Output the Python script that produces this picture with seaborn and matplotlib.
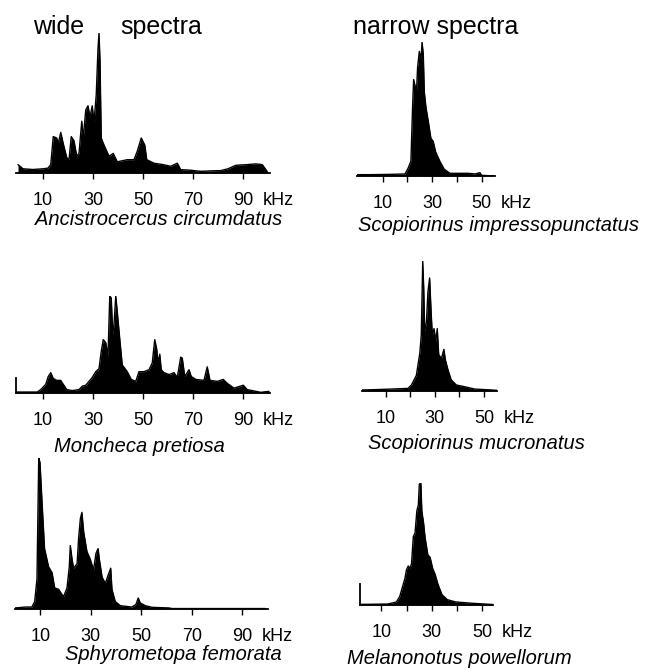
import matplotlib
matplotlib.use("Agg")
import matplotlib.pyplot as plt
import seaborn as sns

# ----------------------------------------------------------------------
# DATA: relative spectral amplitude (tallest peak = 1) against kHz
# ----------------------------------------------------------------------

anc_khz = [0, 2, 6, 10, 12, 13.1, 14.1, 15.5, 16.1, 17.1, 18.1, 19.5, 20.4, 21.3, 22.4,
           23.5, 24.4, 25.5, 26.1, 27.1, 28.0, 28.8, 29.7, 30.4, 31.3, 32.0, 32.4, 32.8,
           33.3, 34.4, 36.4, 38.1, 39.7, 43.7, 46.4, 47.7, 49.3, 50.7, 51.5, 54.4, 58,
           61.1, 63.7, 65.1, 69, 73, 77, 81, 84, 87.1, 91.7, 95, 97.7, 99.7]
anc_amp = [0.06, 0.03, 0.025, 0.03, 0.035, 0.06, 0.26, 0.25, 0.21, 0.29, 0.21, 0.11, 0.095,
           0.26, 0.23, 0.12, 0.14, 0.37, 0.25, 0.45, 0.48, 0.40, 0.48, 0.36, 0.56, 0.89, 1.0,
           0.80, 0.25, 0.20, 0.12, 0.14, 0.08, 0.095, 0.095, 0.155, 0.25, 0.20, 0.095, 0.07,
           0.06, 0.048, 0.07, 0.024, 0.02, 0.012, 0.015, 0.017, 0.03, 0.055, 0.06, 0.065,
           0.06, 0.01]

imp_khz = [-0.4, 5, 12.3, 19, 20.3, 21.4, 22.1, 22.5, 23.0, 23.6, 24.1, 24.8, 25.5, 25.9,
           26.4, 26.8, 27.5, 28.4, 29.5, 30.4, 31.4, 33.1, 34.9, 37.2, 44.6, 47.3, 49.3,
           50.0, 55.4]
imp_amp = [0.01, 0.01, 0.012, 0.015, 0.06, 0.11, 0.53, 0.72, 0.68, 0.61, 0.81, 0.93, 0.87,
           1.0, 0.91, 0.63, 0.51, 0.41, 0.28, 0.26, 0.18, 0.11, 0.05, 0.02, 0.02, 0.015,
           0.025, 0.005, 0.0]

mon_khz = [-0.8, 4, 7.7, 9.1, 11.1, 12.1, 13.1, 14.1, 15.5, 17.1, 18.1, 19.5, 21.7, 24.4,
           25.7, 27.1, 28.4, 29.7, 31.1, 32.4, 33.3, 34.1, 35.1, 36.0, 36.7, 37.3, 37.9,
           38.4, 39.1, 39.7, 40.8, 41.7, 43.7, 45.3, 47.1, 48.4, 50.4, 52.4, 53.7, 54.7,
           55.5, 56.0, 56.7, 57.3, 58.4, 60.4, 62.4, 63.7, 65.1, 65.7, 66.7, 68.4, 69.3,
           71.1, 74.4, 75.7, 76.8, 79.7, 82.1, 83.7, 86.4, 90.1, 91.7, 97.1, 100.4]
mon_amp = [0.01, 0.01, 0.01, 0.035, 0.09, 0.17, 0.21, 0.15, 0.13, 0.13, 0.09, 0.035, 0.025,
           0.035, 0.07, 0.08, 0.12, 0.16, 0.22, 0.25, 0.43, 0.55, 0.52, 0.38, 1.0, 0.98,
           0.60, 0.71, 1.0, 0.84, 0.53, 0.29, 0.22, 0.14, 0.12, 0.22, 0.22, 0.24, 0.31,
           0.55, 0.45, 0.31, 0.40, 0.24, 0.21, 0.19, 0.21, 0.16, 0.37, 0.36, 0.17, 0.24,
           0.17, 0.14, 0.13, 0.27, 0.13, 0.12, 0.14, 0.10, 0.05, 0.08, 0.035, 0.007, 0.017]

muc_khz = [0.4, 5, 12.3, 19.1, 20.5, 22.5, 23.9, 24.5, 25.1, 25.5, 25.9, 26.6, 27.2, 27.9,
           28.5, 29.0, 29.7, 30.4, 31.0, 31.6, 32.7, 33.7, 34.3, 35.4, 36.7, 38.8, 42.1,
           46.2, 53.0, 55.3]
muc_amp = [0.008, 0.01, 0.015, 0.02, 0.046, 0.12, 0.29, 0.43, 1.0, 0.79, 0.46, 0.53, 0.76,
           0.87, 0.61, 0.43, 0.48, 0.38, 0.48, 0.28, 0.25, 0.32, 0.24, 0.16, 0.085, 0.046,
           0.033, 0.015, 0.008, 0.005]

sph_khz = [0, 4.1, 6.7, 7.8, 8.7, 9.4, 9.9, 10.7, 11.7, 13.3, 14.7, 15.7, 17.3, 18.6, 19.3,
           20.6, 21.5, 21.9, 22.6, 23.2, 24.6, 25.2, 25.9, 26.5, 27.2, 28.5, 29.8, 31.1,
           32.1, 32.9, 33.4, 34.5, 35.8, 36.8, 37.9, 38.4, 39.7, 41.7, 46.3, 47.9, 48.8,
           49.6, 51.6, 54.3, 60.9, 62.2, 80, 99.1]
sph_amp = [0.007, 0.013, 0.013, 0.05, 0.20, 1.0, 0.97, 0.71, 0.40, 0.28, 0.24, 0.14, 0.13,
           0.096, 0.084, 0.14, 0.28, 0.42, 0.33, 0.27, 0.30, 0.47, 0.60, 0.64, 0.51, 0.38,
           0.33, 0.26, 0.37, 0.40, 0.33, 0.21, 0.17, 0.22, 0.27, 0.13, 0.05, 0.022, 0.013,
           0.03, 0.073, 0.04, 0.022, 0.011, 0.007, 0.003, 0.003, 0.003]

mel_khz = [0.8, 6, 12.6, 16.0, 17.3, 18.7, 19.4, 20.0, 20.7, 21.4, 22.0, 22.7, 23.4, 24.1,
           24.7, 25.1, 25.7, 26.1, 26.8, 27.4, 28.5, 29.4, 30.4, 31.4, 32.5, 34.1, 36.2,
           39.5, 46.2, 54.3]
mel_amp = [0.005, 0.006, 0.008, 0.025, 0.07, 0.17, 0.22, 0.29, 0.32, 0.30, 0.34, 0.56, 0.59,
           0.77, 0.82, 0.99, 1.0, 0.77, 0.67, 0.55, 0.41, 0.39, 0.30, 0.25, 0.17, 0.085,
           0.044, 0.025, 0.014, 0.004]

wide_ticks = [10, 30, 50, 70, 90]
narrow_ticks = [10, 20, 30, 40, 50]
narrow_labels = ["10", "", "30", "", "50"]

# calibration bar height (relative amplitude) drawn on two panels
mon_bar = 0.15
mel_bar = 0.17

# ----------------------------------------------------------------------
# PLOT
# ----------------------------------------------------------------------

sns.set_theme(style="white")
plt.rcParams["font.family"] = ["Liberation Sans", "DejaVu Sans"]
plt.rcParams["text.color"] = "black"
plt.rcParams["xtick.color"] = "black"
plt.rcParams["xtick.labelcolor"] = "black"

W, H = 658, 670
fig = plt.figure(figsize=(W / 100, H / 100), dpi=100)


def px_axes(left, right, top, bottom):
    return fig.add_axes([left / W, 1 - bottom / H, (right - left) / W, (bottom - top) / H])


panels = [
    # khz, amp, (left, right, top, bottom), xlim, wide?, bar
    (anc_khz, anc_amp, (16, 270, 33, 173), (-0.8, 100.8), True, None),
    (imp_khz, imp_amp, (357, 495, 42, 176), (-0.4, 55.4), False, None),
    (mon_khz, mon_amp, (16, 270, 296, 393), (-0.8, 100.8), True, mon_bar),
    (muc_khz, muc_amp, (362, 497, 261, 391), (0.4, 55.3), False, None),
    (sph_khz, sph_amp, (15, 268, 458, 609), (0.0, 100.2), True, None),
    (mel_khz, mel_amp, (360, 493, 483, 605), (1.5, 54.4), False, mel_bar),
]

for khz, amp, box, xlim, wide, bar in panels:
    ax = px_axes(*box)
    sns.lineplot(x=khz, y=amp, ax=ax, color="black", linewidth=1.0)
    ax.fill_between(khz, 0, amp, color="black", linewidth=0)
    ax.set_xlim(*xlim)
    ax.set_ylim(0, 1)
    ax.set_facecolor("none")
    for s in ["top", "right"]:
        ax.spines[s].set_visible(False)
    ax.spines["bottom"].set_color("black")
    ax.spines["bottom"].set_linewidth(1.3)
    if bar is None:
        ax.spines["left"].set_visible(False)
    else:
        ax.spines["left"].set_color("black")
        ax.spines["left"].set_linewidth(1.3)
        ax.spines["left"].set_bounds(0, bar)
    ax.set_yticks([])
    if wide:
        ax.set_xticks(wide_ticks)
        ax.set_xticklabels([str(t) for t in wide_ticks])
        last = wide_ticks[-1]
    else:
        ax.set_xticks(narrow_ticks)
        ax.set_xticklabels(narrow_labels)
        last = narrow_ticks[-1]
    ax.tick_params(axis="x", bottom=True, direction="out", length=4, width=1,
                   color="black", labelsize=13, pad=10, labelcolor="black")
    ax.annotate("kHz", xy=(last, 0), xycoords=("data", "axes fraction"),
                xytext=(14, -14), textcoords="offset points",
                ha="left", va="top", fontsize=13, color="black")

# Species names (italic)
species = [
    ("Ancistrocercus circumdatus", 159, 210),
    ("Scopiorinus impressopunctatus", 498, 216),
    ("Moncheca pretiosa", 139, 437),
    ("Scopiorinus mucronatus", 476, 434),
    ("Sphyrometopa femorata", 173, 645),
    ("Melanonotus powellorum", 459, 649),
]
for name, cx, top in species:
    fig.text(cx / W, 1 - top / H, name, ha="center", va="top",
             fontsize=14.5, style="italic", color="black")

# Column headers
fig.text(33 / W, 1 - 15 / H, "wide", ha="left", va="top", fontsize=18, color="black")
fig.text(120 / W, 1 - 15 / H, "spectra", ha="left", va="top", fontsize=18, color="black")
fig.text(353 / W, 1 - 15 / H, "narrow spectra", ha="left", va="top", fontsize=18,
         color="black")

fig.savefig("out.png", dpi=100, facecolor="white")
